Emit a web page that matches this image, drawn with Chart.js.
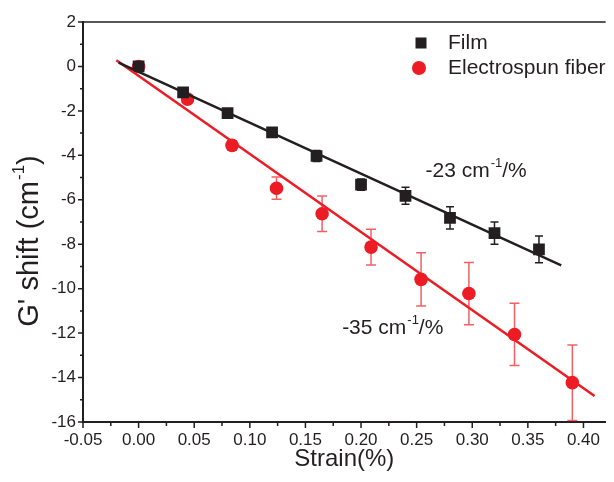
<!DOCTYPE html>
<html>
<head>
<meta charset="utf-8">
<script src="https://cdn.jsdelivr.net/npm/chart.js@4/dist/chart.umd.min.js"></script>
<style>
  html, body { margin: 0; padding: 0; background: #fff; }
  #wrap { width: 614px; height: 482px; position: relative; }
</style>
</head>
<body>
<div id="wrap"><canvas id="chart"></canvas></div>
<script>
// values
const filmStrain = [0, 0.04, 0.08, 0.12, 0.16, 0.20, 0.24, 0.28, 0.32, 0.36];
const filmShift = [0, -1.17, -2.1, -2.97, -4.03, -5.32, -5.82, -6.81, -7.5, -8.23];
const filmErr = [0.15, 0.12, 0.12, 0.12, 0.25, 0.25, 0.38, 0.5, 0.5, 0.6];

const fiberStrain = [0, 0.044, 0.084, 0.124, 0.165, 0.209, 0.254, 0.297, 0.338, 0.39];
const fiberShift = [0, -1.47, -3.55, -5.48, -6.63, -8.13, -9.58, -10.22, -12.06, -14.23];
const fiberErr = [0.15, 0.12, 0.2, 0.5, 0.8, 0.8, 1.2, 1.4, 1.4, 1.7];

// linear fits (end points)
const filmFitX = [-0.018, 0.38];
const filmFitY = [0.17, -8.95];
const fiberFitX = [-0.02, 0.41];
const fiberFitY = [0.28, -14.83];

const strainTicks = [-0.05, 0, 0.05, 0.10, 0.15, 0.20, 0.25, 0.30, 0.35, 0.40];
const shiftTicks = [-16, -14, -12, -10, -8, -6, -4, -2, 0, 2];

const seriesNames = ['Film', 'Electrospun fiber'];
const yTitle = ["G' shift (cm", '-1', ')'];
const slopeLabels = [['-23 cm', '-1', '/%'], ['-35 cm', '-1', '/%']];
const slopeAt = [[0.258, -4.73], [0.183, -11.77]];

const ink = '#231f20';
const red = '#ed1c24';
const redBar = 'rgba(237, 28, 36, 0.7)';
const FONT = "'Liberation Sans', Arial, sans-serif";

const toPts = (xs, ys) => xs.map((x, i) => ({ x: x, y: ys[i] }));

function supWidth(ctx, parts, size) {
    ctx.font = size + 'px ' + FONT;
    let w = ctx.measureText(parts[0]).width + ctx.measureText(parts[2]).width + 1;
    ctx.font = Math.round(size * 0.6) + 'px ' + FONT;
    return w + ctx.measureText(parts[1]).width;
}

function drawSup(ctx, x, y, parts, size) {
    // parts: [normal, superscript, normal]
    ctx.textBaseline = 'middle';
    ctx.textAlign = 'left';
    ctx.font = size + 'px ' + FONT;
    ctx.fillText(parts[0], x, y);
    x += ctx.measureText(parts[0]).width + 1;
    ctx.font = Math.round(size * 0.6) + 'px ' + FONT;
    ctx.fillText(parts[1], x, y - size * 0.38);
    x += ctx.measureText(parts[1]).width;
    ctx.font = size + 'px ' + FONT;
    ctx.fillText(parts[2], x, y);
}

const errorBars = {
    id: 'errorBars',
    beforeDatasetsDraw(chart) {
        const { ctx, scales: { x, y } } = chart;
        const sets = [
            [filmStrain, filmShift, filmErr, ink, 4],
            [fiberStrain, fiberShift, fiberErr, redBar, 5]
        ];
        ctx.save();
        sets.forEach(([xs, ys, es, col, cap]) => {
            ctx.strokeStyle = col;
            ctx.lineWidth = 1.5;
            xs.forEach((v, i) => {
                const px = x.getPixelForValue(v);
                const top = y.getPixelForValue(ys[i] + es[i]);
                const bot = y.getPixelForValue(ys[i] - es[i]);
                ctx.beginPath();
                ctx.moveTo(px, top); ctx.lineTo(px, bot);
                ctx.moveTo(px - cap, top); ctx.lineTo(px + cap, top);
                ctx.moveTo(px - cap, bot); ctx.lineTo(px + cap, bot);
                ctx.stroke();
            });
        });
        ctx.restore();
    }
};

const frame = {
    id: 'frame',
    afterDraw(chart) {
        const { ctx, chartArea: a, scales: { x, y } } = chart;
        ctx.save();
        ctx.strokeStyle = ink;
        // top border
        ctx.lineWidth = 1.5;
        ctx.beginPath();
        ctx.moveTo(a.left, a.top); ctx.lineTo(a.right, a.top);
        ctx.stroke();

        // tick marks, major and minor
        ctx.lineWidth = 1.5;
        ctx.beginPath();
        const xt = x.ticks.map(t => t.value);
        xt.forEach((v, i) => {
            const px = x.getPixelForValue(v);
            ctx.moveTo(px, a.bottom); ctx.lineTo(px, a.bottom + 6);
            if (i < xt.length - 1) {
                const pm = x.getPixelForValue((v + xt[i + 1]) / 2);
                ctx.moveTo(pm, a.bottom); ctx.lineTo(pm, a.bottom + 4);
            }
        });
        const yt = y.ticks.map(t => t.value);
        yt.forEach((v, i) => {
            const py = y.getPixelForValue(v);
            ctx.moveTo(a.left, py); ctx.lineTo(a.left - 5, py);
            if (i < yt.length - 1) {
                const pm = y.getPixelForValue((v + yt[i + 1]) / 2);
                ctx.moveTo(pm === pm ? a.left : a.left, pm); ctx.lineTo(a.left - 3, pm);
            }
        });
        ctx.stroke();

        // y axis title with a true superscript
        ctx.fillStyle = ink;
        ctx.save();
        ctx.translate(30, 241);
        ctx.rotate(-Math.PI / 2);
        drawSup(ctx, -supWidth(ctx, yTitle, 29) / 2, 0, yTitle, 29);
        ctx.restore();

        // slope annotations
        slopeLabels.forEach((parts, i) => {
            drawSup(ctx, x.getPixelForValue(slopeAt[i][0]), y.getPixelForValue(slopeAt[i][1]), parts, 21);
        });

        // legend
        ctx.fillStyle = ink;
        ctx.fillRect(421 - 5.5, 43 - 5.5, 11, 11);
        ctx.fillStyle = red;
        ctx.beginPath();
        ctx.arc(419, 68, 7, 0, Math.PI * 2);
        ctx.fill();
        ctx.fillStyle = ink;
        ctx.font = '21px ' + FONT;
        ctx.textBaseline = 'middle';
        ctx.textAlign = 'left';
        ctx.fillText(seriesNames[0], 448, 43);
        ctx.fillText(seriesNames[1], 448, 68);
        ctx.restore();
    }
};

new Chart(document.getElementById('chart'), {
    type: 'scatter',
    data: {
        datasets: [{
            label: 'Film fit',
            data: toPts(filmFitX, filmFitY),
            showLine: true,
            borderColor: ink,
            borderWidth: 2.5,
            pointRadius: 0
        }, {
            label: 'Fiber fit',
            data: toPts(fiberFitX, fiberFitY),
            showLine: true,
            borderColor: red,
            borderWidth: 2.5,
            pointRadius: 0
        }, {
            label: seriesNames[0],
            data: toPts(filmStrain, filmShift),
            pointStyle: 'rect',
            pointRadius: 8.3,
            backgroundColor: ink,
            borderColor: ink,
            borderWidth: 0
        }, {
            label: seriesNames[1],
            data: toPts(fiberStrain, fiberShift),
            pointStyle: 'circle',
            pointRadius: 6.8,
            backgroundColor: red,
            borderColor: red,
            borderWidth: 0
        }]
    },
    options: {
        responsive: true,
        maintainAspectRatio: false,
        animation: false,
        events: [],
        layout: { padding: { top: 22, right: 0, left: 0, bottom: 0 } },
        plugins: {
            legend: { display: false },
            tooltip: { enabled: false }
        },
        scales: {
            x: {
                type: 'linear',
                min: -0.05,
                max: 0.42,
                afterBuildTicks: scale => {
                    scale.ticks = strainTicks.map(v => ({ value: v }));
                },
                afterFit: scale => { scale.height = 60; },
                grid: { display: false, drawTicks: false },
                border: { display: true, color: ink, width: 2 },
                ticks: {
                    autoSkip: false,
                    maxRotation: 0,
                    padding: 8,
                    color: ink,
                    font: { family: FONT, size: 17 },
                    callback: v => v.toFixed(2)
                },
                title: {
                    display: true,
                    text: 'Strain(%)',
                    color: ink,
                    font: { family: FONT, size: 24 },
                    padding: { top: 0, bottom: 8 }
                }
            },
            y: {
                type: 'linear',
                min: -16,
                max: 2,
                afterBuildTicks: scale => {
                    scale.ticks = shiftTicks.map(v => ({ value: v }));
                },
                afterFit: scale => { scale.width = 83; },
                grid: { display: false, drawTicks: false },
                border: { display: true, color: ink, width: 2 },
                ticks: {
                    autoSkip: false,
                    padding: 7,
                    color: ink,
                    font: { family: FONT, size: 17 }
                },
                title: { display: false }
            }
        }
    },
    plugins: [errorBars, frame]
});
</script>
</body>
</html>
